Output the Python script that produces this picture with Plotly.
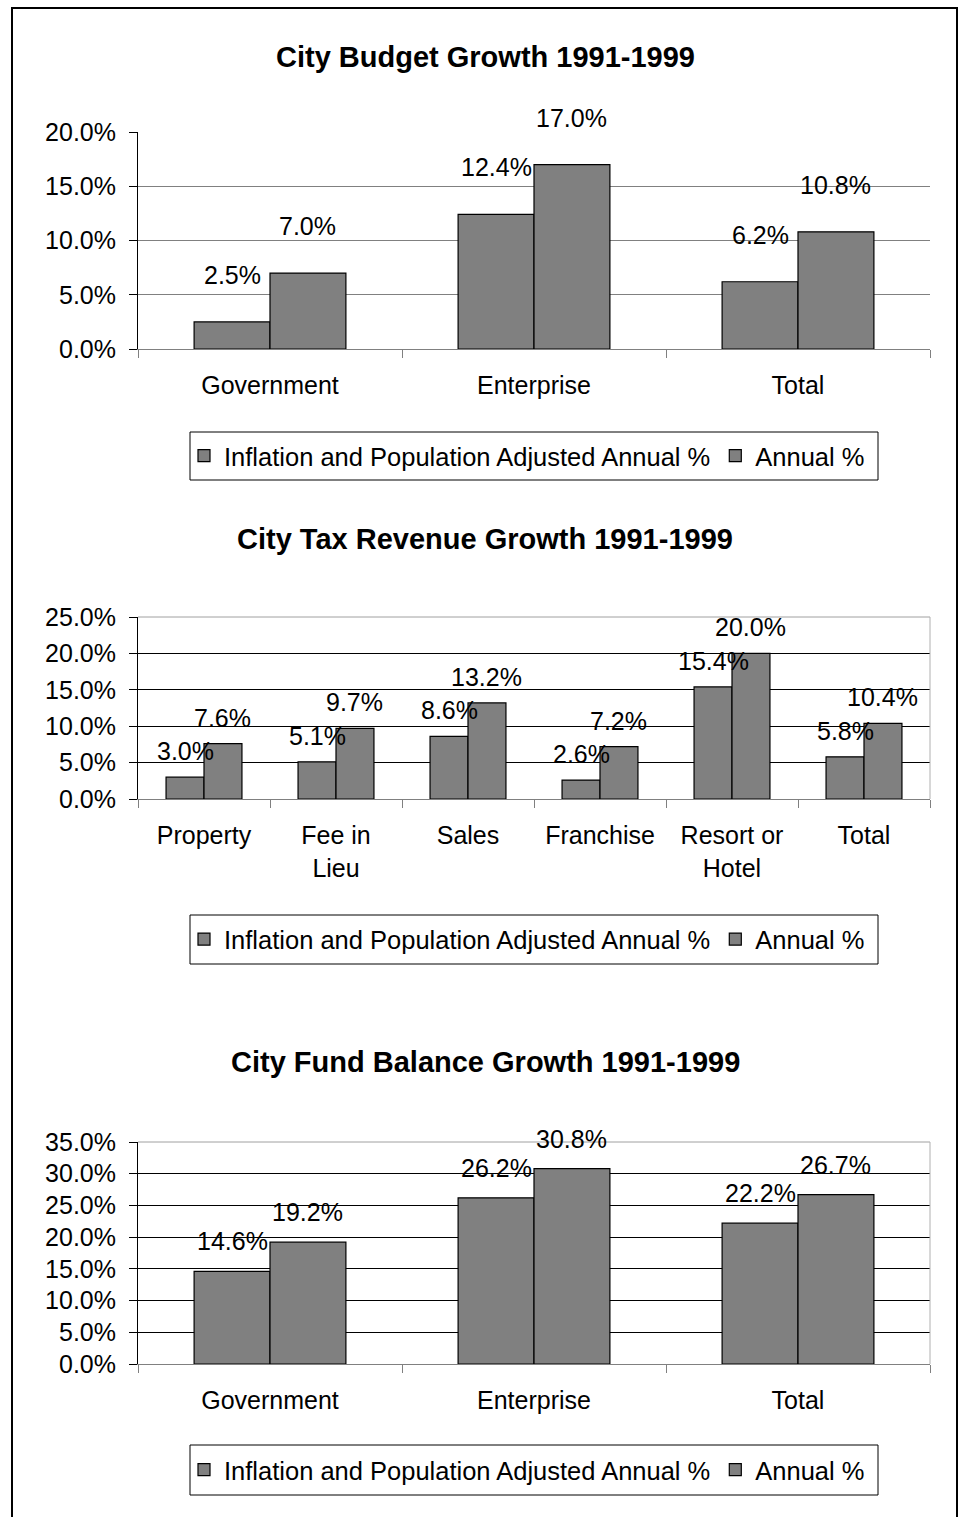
import plotly.graph_objects as go

W, H = 961, 1517

# ---------------- data ----------------
cats1 = ["Government", "Enterprise", "Total"]
adj1 = [2.5, 12.4, 6.2]
ann1 = [7.0, 17.0, 10.8]

cats2 = ["Property", "Fee in<br>Lieu", "Sales", "Franchise", "Resort or<br>Hotel", "Total"]
adj2 = [3.0, 5.1, 8.6, 2.6, 15.4, 5.8]
ann2 = [7.6, 9.7, 13.2, 7.2, 20.0, 10.4]

cats3 = ["Government", "Enterprise", "Total"]
adj3 = [14.6, 26.2, 22.2]
ann3 = [19.2, 30.8, 26.7]

titles = ["City Budget Growth 1991-1999",
          "City Tax Revenue Growth 1991-1999",
          "City Fund Balance Growth 1991-1999"]
series_names = ["Inflation and Population Adjusted Annual %", "Annual %"]
ymax = [20, 25, 35]

FONT = "Liberation Sans, Arial, sans-serif"


def px(x):
    return x / W


def py(y):
    return 1 - y / H


charts = [
    dict(cats=cats1, a=adj1, b=ann1, top=132, bot=349, title_y=57, leg_y=(432, 480),
         grid="#808080", lab_shift=47, frame=False),
    dict(cats=cats2, a=adj2, b=ann2, top=617, bot=799, title_y=539, leg_y=(915, 964),
         grid="#000000", lab_shift=26, frame=True),
    dict(cats=cats3, a=adj3, b=ann3, top=1142, bot=1364, title_y=1062, leg_y=(1445, 1495),
         grid="#000000", lab_shift=30, frame=True),
]

X0, X1 = 138, 930

fig = go.Figure()
annotations = []
shapes = []
layout = {}

for i, c in enumerate(charts):
    n = i + 1
    xa = "x" if n == 1 else f"x{n}"
    ya = "y" if n == 1 else f"y{n}"
    leg = "legend" if n == 1 else f"legend{n}"
    for name, vals in zip(series_names, [c["a"], c["b"]]):
        fig.add_trace(go.Bar(
            x=c["cats"], y=vals, name=name, xaxis=xa, yaxis=ya, legend=leg,
            marker=dict(color="#808080", line=dict(color="#000000", width=1.2)),
            showlegend=True, hoverinfo="skip",
        ))
    xkey = "xaxis" if n == 1 else f"xaxis{n}"
    ykey = "yaxis" if n == 1 else f"yaxis{n}"
    layout[xkey] = dict(
        domain=[px(X0), px(X1)], anchor=ya, type="category",
        showline=True, linecolor="#808080", linewidth=1,
        ticks="outside", tickson="boundaries", ticklen=8, tickcolor="#808080",
        showgrid=False, zeroline=False, automargin=False,
        tickfont=dict(family=FONT, size=25, color="#000"),
        ticklabelstandoff=14,
    )
    layout[ykey] = dict(
        domain=[py(c["bot"]), py(c["top"])], anchor=xa,
        range=[0, ymax[i]], dtick=5, tick0=0,
        tickformat=".1f", ticksuffix="%",
        showline=True, linecolor="#000000", linewidth=1,
        ticks="outside", ticklen=8, tickcolor="#000000",
        showgrid=True, gridcolor=c["grid"], gridwidth=1, zeroline=False, automargin=False,
        tickfont=dict(family=FONT, size=25, color="#000"),
        ticklabelstandoff=8,
    )
    # data labels
    ncat = len(c["cats"])
    catw = (X1 - X0) / ncat
    barw = catw * (1 - 0.425) / 2
    for vals, sh in [(c["a"], -barw / 2), (c["b"], barw / 2)]:
        for cat, v in zip(c["cats"], vals):
            annotations.append(dict(
                x=cat, y=v, xref=xa, yref=ya, text=f"{v:.1f}%", showarrow=False,
                xshift=sh, yshift=c["lab_shift"], yanchor="middle",
                font=dict(family=FONT, size=25, color="#000"),
            ))
    # title
    annotations.append(dict(
        x=px(485), y=py(c["title_y"]), xref="paper", yref="paper",
        text=f"<b>{titles[i]}</b>", showarrow=False, xanchor="center", yanchor="middle",
        font=dict(family=FONT, size=29, color="#000"),
    ))
    # legend box
    y0, y1 = c["leg_y"]
    shapes.append(dict(type="rect", xref="paper", yref="paper",
                       x0=px(190), x1=px(878), y0=py(y1), y1=py(y0),
                       line=dict(color="#000", width=1), fillcolor="rgba(0,0,0,0)"))
    layout[leg] = dict(
        orientation="h", x=px(527), y=py((y0 + y1) / 2), xanchor="center", yanchor="middle",
        xref="paper", yref="paper", bgcolor="rgba(0,0,0,0)", borderwidth=0,
        font=dict(family=FONT, size=25.5, color="#000"), itemclick=False,
        tracegroupgap=0,
    )
    if c["frame"]:
        shapes.append(dict(type="line", xref="paper", yref="paper",
                           x0=px(X0), x1=px(X1), y0=py(c["top"]), y1=py(c["top"]),
                           line=dict(color="#a0a0a0", width=1), layer="above"))
        shapes.append(dict(type="line", xref="paper", yref="paper",
                           x0=px(X1), x1=px(X1), y0=py(c["top"]), y1=py(c["bot"]),
                           line=dict(color="#b0b0b0", width=1), layer="above"))

# outer border
shapes.append(dict(type="rect", xref="paper", yref="paper",
                   x0=px(12), x1=px(957), y0=py(1540), y1=py(8),
                   line=dict(color="#000", width=2), fillcolor="rgba(0,0,0,0)"))

fig.update_layout(
    width=W, height=H,
    margin=dict(l=0, r=0, t=0, b=0, autoexpand=False),
    paper_bgcolor="#ffffff", plot_bgcolor="#ffffff",
    barmode="group", bargap=0.425, bargroupgap=0,
    annotations=annotations, shapes=shapes,
    font=dict(family=FONT, color="#000"),
    **layout,
)

fig.write_html(
    "out.html",
    config={"displayModeBar": False, "staticPlot": True},
    post_script="document.body.style.margin='0';document.body.style.overflow='hidden';",
)
